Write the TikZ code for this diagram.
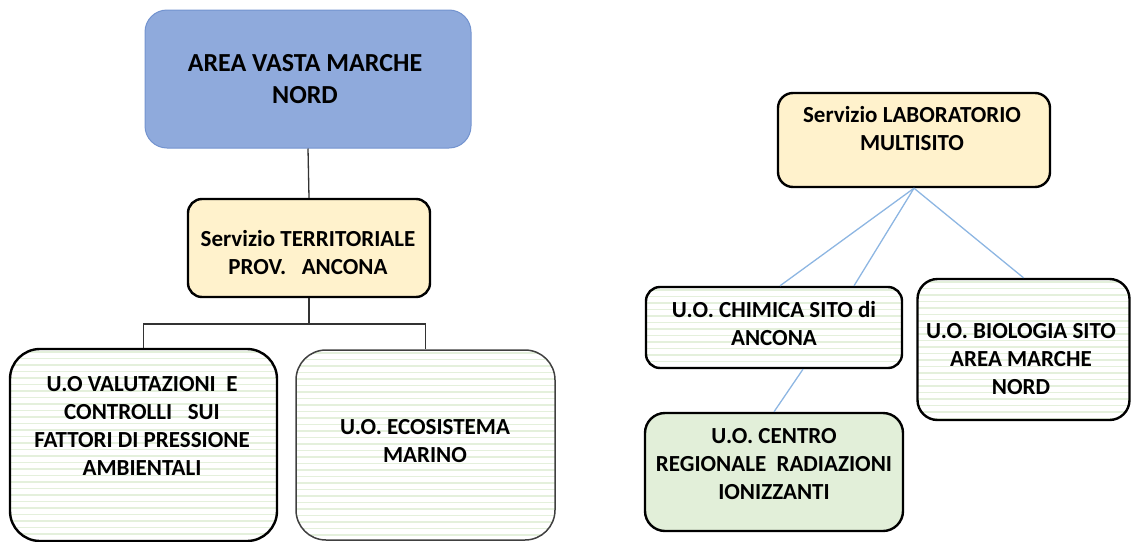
\documentclass[tikz,border=0pt]{standalone}
\usepackage{fontspec}
\setmainfont{Carlito}
\usepackage{xcolor}
\usetikzlibrary{positioning}
\definecolor{areablue}{HTML}{8FAADC}
\definecolor{areaedge}{HTML}{7393CF}
\definecolor{servyellow}{HTML}{FFF2CC}
\definecolor{unitgreen}{HTML}{E2EFD9}
\definecolor{stripegreen}{HTML}{E4F0DC}
\definecolor{linkblue}{HTML}{8DB6E2}
\tikzset{ubox/.style={draw=black,line width=2.4pt,fill=white}}
\tikzset{stripes/.style={path picture={\foreach \k in {0,...,45}{\draw[stripegreen,line width=1.1pt] ([yshift=-\k*6.5pt-3pt]path picture bounding box.north west) -- ([yshift=-\k*6.5pt-3pt]path picture bounding box.north east);}}}}
\tikzset{utext/.style={font=\bfseries\fontsize{23}{28}\selectfont,align=center,inner sep=0pt}}
\tikzset{tree/.style={draw=black!80,line width=1.3pt}}
\tikzset{link/.style={draw=linkblue,line width=1.3pt}}

\begin{document}
\begin{tikzpicture}[x=1pt,y=-1pt]
            \useasboundingbox (0,0) rectangle (1132,541);
            % draw the left branch
            \node[draw=areaedge,line width=1pt,fill=areablue,rounded corners=22pt,minimum width=326pt,minimum height=138pt] (area) at (308,79) {};
            \node[ubox,fill=servyellow,rounded corners=14pt,minimum width=242pt,minimum height=98pt] (terr) at (309,248) {};
            \node[ubox,stripes,rounded corners=30pt,minimum width=267pt,minimum height=192pt] (valut) at (143.5,445) {};
            \node[ubox,stripes,draw=black!75,line width=1.5pt,rounded corners=30pt,minimum width=259pt,minimum height=190pt] (ecos) at (425.5,445) {};
            \node[utext,font=\bfseries\fontsize{26}{32}\selectfont] (areatxt) at (305,79) {AREA VASTA MARCHE\\NORD};
            \node[utext] (terrtxt) at (308,253) {Servizio TERRITORIALE\\PROV.~~ ANCONA};
            \node[utext] (valuttxt) at (142,426) {U.O VALUTAZIONI~ E\\CONTROLLI~~ SUI\\FATTORI DI PRESSIONE\\AMBIENTALI};
            \node[utext] (ecostxt) at (425,441) {U.O. ECOSISTEMA\\MARINO};
            \coordinate (fork) at (309,324);
            \draw[tree] (area.south) -- (terr.north);
            \draw[tree] (terr.south) -- (fork);
            \draw[tree] (valut.north) |- (fork) -| (ecos.north);

            % draw the right branch
            \node[ubox,fill=servyellow,rounded corners=15pt,minimum width=272pt,minimum height=94pt] (lab) at (914,140) {};
            \node[ubox,stripes,rounded corners=14pt,minimum width=256pt,minimum height=81pt] (chim) at (774,327.5) {};
            \node[ubox,stripes,rounded corners=20pt,minimum width=212pt,minimum height=141pt] (bio) at (1023.5,349.5) {};
            \node[ubox,fill=unitgreen,rounded corners=20pt,minimum width=258pt,minimum height=118pt] (centro) at (774,472) {};
            \node[utext] (labtxt) at (912,129) {Servizio LABORATORIO\\MULTISITO};
            \node[utext] (chimtxt) at (774,324) {U.O. CHIMICA SITO di\\ANCONA};
            \node[utext] (biotxt) at (1021,359) {U.O. BIOLOGIA SITO\\AREA MARCHE\\NORD};
            \node[utext] (centrotxt) at (774,464) {U.O. CENTRO\\REGIONALE~ RADIAZIONI\\IONIZZANTI};
            \draw[link] (lab.south) -- ([xshift=6pt]chim.north);
            \draw[link] (lab.south) -- ([xshift=80pt]chim.north);
            \draw[link] (lab.south) -- (bio.north);
            \draw[link] ([xshift=29pt]chim.south) -- (centro.north);
        \end{tikzpicture}
\end{document}
